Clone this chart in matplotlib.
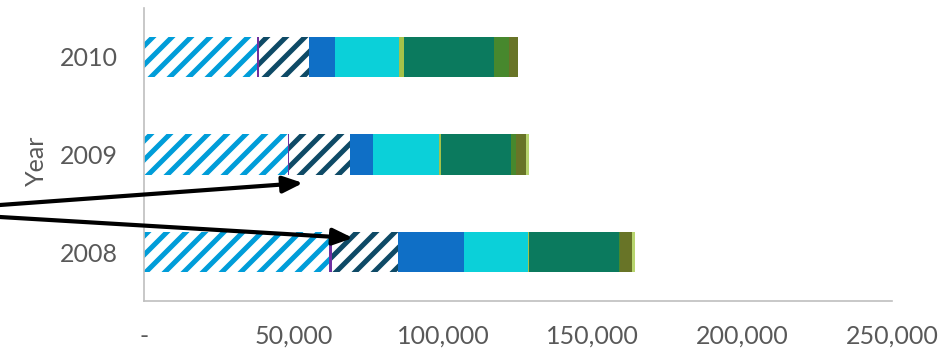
import numpy as np
import matplotlib.pyplot as plt
from matplotlib.ticker import FuncFormatter

# Data, one list per series, order: 2008, 2009, 2010
years = ['2008', '2009', '2010']
s1_hatch_light = [61700, 48000, 37900]
s2_purple = [1100, 570, 400]
s3_hatch_dark = [22000, 20400, 16900]
s4_blue = [22300, 7500, 8700]
s5_cyan = [21200, 22100, 21200]
s6_lime = [300, 570, 1900]
s7_teal = [30000, 23400, 30100]
s8_green = [600, 1900, 4800]
s9_olive = [3900, 3100, 3000]
s10_light = [900, 1300, 150]

x_ticks = [0, 50000, 100000, 150000, 200000, 250000]

series = [s1_hatch_light, s2_purple, s3_hatch_dark, s4_blue, s5_cyan,
          s6_lime, s7_teal, s8_green, s9_olive, s10_light]
colors = ['#009DD9', '#7030A0', '#0E4A66', '#0F6FC6', '#0BD0D9',
          '#A5C249', '#0B7A5E', '#47882D', '#687427', '#B8D56F']
hatched = [True, False, True, False, False, False, False, False, False, False]

# dpi picked so the hatch spacing comes out like the original
DPI = 114
k = 100 / DPI  # point sizes below were tuned for 100 dpi

plt.rcParams['font.family'] = ['Lato', 'DejaVu Sans']
plt.rcParams['hatch.linewidth'] = 3.6 * k

fig = plt.figure(figsize=(949 / DPI, 355 / DPI), dpi=DPI)
ax = fig.add_axes([144 / 949, 1 - 301 / 355, (892 - 144) / 949, (301 - 8) / 355])

y = np.arange(len(years))
left = np.zeros(len(years))
for vals, col, hat in zip(series, colors, hatched):
    vals = np.array(vals, dtype=float)
    if hat:
        ax.barh(y, vals, left=left, height=0.41, facecolor='white',
                edgecolor=col, hatch='//', linewidth=0)
    else:
        ax.barh(y, vals, left=left, height=0.41, color=col, linewidth=0)
    left += vals

ax.set_xlim(0, 250000)
ax.set_ylim(-0.5, 2.5)
ax.set_yticks(y)
ax.set_yticklabels(years)
ax.set_xticks(x_ticks)
ax.xaxis.set_major_formatter(FuncFormatter(lambda v, p: '-' if v == 0 else f'{v:,.0f}'))

text_col = '#595959'
ax.tick_params(axis='both', length=0, labelsize=18 * k, labelcolor=text_col)
ax.tick_params(axis='y', pad=19 * k)
ax.tick_params(axis='x', pad=17 * k)
ax.set_ylabel('Year', fontsize=18 * k, color=text_col)
ax.yaxis.set_label_coords(-(144 - 48) / 748, 0.48)

for side in ['top', 'right']:
    ax.spines[side].set_visible(False)
for side in ['left', 'bottom']:
    ax.spines[side].set_color('#BFBFBF')
    ax.spines[side].set_linewidth(1.2 * k)

# arrows coming in from the left edge
arrow_kw = dict(arrowstyle='-|>,head_length=0.6,head_width=0.25', lw=3 * k,
                color='black', shrinkA=0, shrinkB=0, mutation_scale=20 * k)
ax.annotate('', xy=(303, 355 - 183), xytext=(-91, 355 - 211.6),
            xycoords='figure pixels', textcoords='figure pixels',
            arrowprops=arrow_kw, annotation_clip=False)
ax.annotate('', xy=(353, 355 - 238), xytext=(-91, 355 - 211.6),
            xycoords='figure pixels', textcoords='figure pixels',
            arrowprops=arrow_kw, annotation_clip=False)

plt.savefig('out.png', dpi=DPI)
